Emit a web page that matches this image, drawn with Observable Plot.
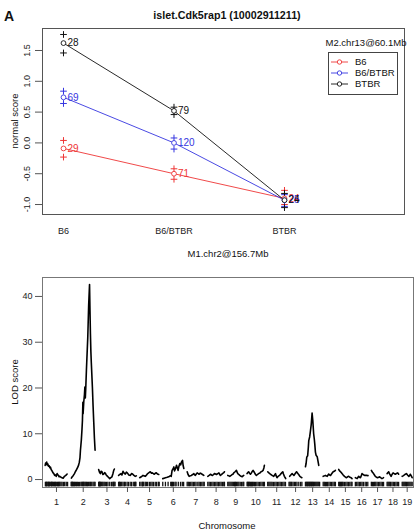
<!DOCTYPE html>
<html><head><meta charset="utf-8">
<script src="https://cdn.jsdelivr.net/npm/d3@7"></script>
<script src="https://cdn.jsdelivr.net/npm/@observablehq/plot@0.6"></script>
<style>
body{margin:0;background:#fff;font-family:"Liberation Sans",Arial,sans-serif;}
#wrap{position:relative;width:415px;height:530px;overflow:hidden;background:#fff;}
.abs{position:absolute;white-space:nowrap;line-height:1;color:#111;}
.c{transform:translate(-50%,-50%);}
.rot{transform:translate(-50%,-50%) rotate(-90deg);}
.panel{position:absolute;left:0;}
</style></head><body><div id="wrap"></div>
<script>
// ---------- Panel A: effect plot ----------
const genotypesM1 = ["B6", "B6/BTBR", "BTBR"];
const groupsM2 = ["B6", "B6/BTBR", "BTBR"];
const groupColors = ["#ee3535", "#3535e0", "#111111"];
const meanB6   = [-0.09, -0.50, -0.90];
const meanHet  = [0.74, 0.00, -0.93];
const meanBTBR = [1.62, 0.52, -0.93];
const upperB6   = [0.04, -0.42, -0.77];
const upperHet  = [0.84, 0.08, -0.84];
const upperBTBR = [1.76, 0.58, -0.82];
const lowerB6   = [-0.23, -0.59, -1.00];
const lowerHet  = [0.64, -0.10, -1.03];
const lowerBTBR = [1.46, 0.46, -1.05];
const countB6   = [29, 71, 24];
const countHet  = [69, 120, 25];
const countBTBR = [28, 79, 24];
const yTicksTop = [-1, -0.5, 0, 0.5, 1, 1.5];

// ---------- Panel B: genome scan ----------
const chrNames = ["1","2","3","4","5","6","7","8","9","10","11","12","13","14","15","16","17","18","19"];
const chrLengths = [102,109,75,80,89,95,78,75,72,78,81,59,65,55,60,57,56,53,45];
const yTicksBottom = [0, 10, 20, 30, 40];
const lodCurves = [
 [[0,3.1],[2,3.6],[4.5,3.3],[7,3.8],[9,3.2],[12,3.4],[15,2.9],[18,3.0],[21,2.6],[24,2.7],[27,2.2],[31,1.9],[35,1.5],[39,1.3],[43,0.9],[46,1.0],[50,0.7],[54,1.3],[57,1.0],[60,0.9],[63,0.6],[66,0.7],[71,0.5],[76,0.4],[81,0.3],[87,0.7],[93,0.9],[99,1.2]],
 [[1,0.3],[5,0.6],[10,0.9],[15,1.3],[19,1.7],[25,2.2],[30,2.7],[34,3.2],[37,3.8],[40,4.8],[42,6.4],[44,7.5],[46,8.6],[49,11.0],[51,12.9],[53,16.9],[54,14.4],[57,17.0],[60,18.5],[62,20.2],[64,17.8],[66,20.0],[69,24.0],[75,31.0],[79,38.0],[83,42.6],[85,37.0],[87,31.8],[89,28.0],[91,25.5],[96,20.0],[99,16.0],[102,12.5],[105,9.0],[108,6.4]],
 [[0,2.2],[4,1.6],[8,1.3],[11,1.8],[15,1.7],[19,1.1],[23,1.2],[27,1.5],[30,1.4],[34,1.0],[38,0.8],[44,0.5],[50,0.2],[55,0.4],[60,0.6],[64,1.2],[68,2.0],[71,2.3]],
 [[0,0.9],[5,1.1],[11,1.3],[15,1.0],[20,1.8],[25,1.4],[30,1.2],[35,1.6],[40,1.4],[46,1.0],[53,0.9],[58,1.3],[63,1.2],[69,0.9],[75,0.7],[80,0.8]],
 [[0,0.4],[7,0.6],[15,0.9],[20,0.8],[26,0.7],[31,1.0],[36,1.3],[42,1.5],[48,1.7],[53,1.4],[57,1.45],[62,1.3],[66,1.15],[71,1.4],[75,1.45],[80,1.2],[86,1.1]],
 [[0,0.2],[6,0.3],[12,0.4],[20,0.5],[27,0.6],[33,0.8],[38,0.7],[42,2.0],[46,2.3],[50,2.75],[53,1.9],[56,2.2],[59,2.6],[62,3.1],[66,2.5],[69,2.0],[73,2.9],[77,3.5],[81,3.2],[84,3.8],[89,4.2],[92,3.0],[95,2.4]],
 [[0,1.7],[4,1.1],[9,0.7],[14,0.8],[19,0.9],[25,1.1],[30,1.3],[34,1.0],[37,0.9],[41,1.2],[45,1.45],[50,1.3],[54,1.15],[59,1.4],[63,1.3],[69,1.1],[75,0.9]],
 [[0,0.7],[6,0.9],[12,1.15],[17,1.0],[21,0.9],[26,1.1],[30,1.3],[35,1.2],[39,1.1],[45,1.3],[50,1.45],[54,1.1],[57,0.9],[62,1.1],[66,1.3],[72,1.5],[75,1.7]],
 [[0,0.9],[5,0.8],[9,0.7],[15,0.9],[20,1.1],[24,1.2],[27,1.45],[33,1.7],[39,2.0],[42,1.6],[45,1.3],[50,1.1],[54,0.9],[60,0.7],[65,0.6],[69,0.8],[72,0.9]],
 [[0,1.3],[3,1.5],[7,1.7],[11,1.4],[15,1.15],[20,1.5],[24,1.8],[27,2.0],[31,1.7],[34,1.45],[38,1.1],[42,0.9],[47,1.1],[52,1.3],[57,1.4],[63,1.7],[68,1.8],[72,2.0],[76,2.6],[78,3.1]],
 [[0,1.7],[4,1.5],[9,1.3],[14,1.1],[20,0.9],[24,0.8],[27,0.7],[31,1.0],[35,1.3],[38,0.8],[42,0.4],[47,0.7],[53,0.9],[57,1.1],[60,1.3],[64,1.5],[68,1.7],[71,1.2],[75,0.7],[79,0.4],[81,0.2]],
 [[3,0.7],[8,1.0],[14,1.3],[18,1.1],[22,0.9],[28,1.3],[34,1.7],[37,1.5],[40,1.3],[45,1.0],[49,0.7],[54,0.5],[58,0.4]],
 [[0,2.8],[3,3.5],[6,4.9],[10,5.2],[13,7.0],[15,8.5],[19,9.3],[22,10.4],[26,12.0],[30,14.5],[33,13.0],[37,10.0],[40,8.8],[42,7.8],[45,6.0],[48,5.3],[53,5.0],[56,4.2],[60,3.1]],
 [[0,0.7],[5,0.8],[10,0.9],[14,0.8],[18,0.7],[22,1.0],[25,1.2],[29,1.0],[33,0.9],[39,1.3],[45,1.7],[50,1.8],[55,2.0]],
 [[0,2.2],[4,1.9],[8,1.7],[12,1.5],[15,1.3],[20,1.0],[26,0.7],[31,0.5],[35,0.4],[40,0.6],[45,0.7],[50,0.5],[56,0.4],[60,0.2]],
 [[0,0.4],[4,0.3],[8,0.2],[12,0.5],[15,0.7],[19,0.5],[23,0.4],[27,0.9],[30,1.3],[35,1.1],[41,0.9],[47,0.9],[53,0.9],[57,0.85]],
 [[0,2.0],[5,1.6],[10,1.3],[14,1.0],[18,0.7],[23,0.5],[28,0.4],[33,0.5],[37,0.6],[42,0.4],[48,0.2],[52,0.3],[55,0.4]],
 [[0,1.3],[4,1.5],[7,1.7],[12,1.2],[18,0.7],[22,1.1],[27,1.45],[32,1.3],[37,1.15],[42,1.3],[48,1.45],[52,1.15]],
 [[0,0.7],[4,0.8],[7,0.9],[12,1.1],[19,1.3],[24,1.0],[30,0.7],[34,0.9],[37,1.15],[41,0.8],[45,0.4]]
];
const markerPos = [
 [1,4,6,8,12,15,17,19,23,27,29,31,34,38,42,45,47,52,56,60,63,66,71,76,82,88,95,101],
 [0,3,5,7,11,15,19,24,28,33,38,44,48,52,55,58,62,66,70,74,79,84,88,93,99,104,108],
 [0,2,4,6,8,12,16,20,25,30,36,42,50,58,64,67,70,74],
 [0,3,5,9,14,20,26,30,38,44,52,58,66,72,75,78],
 [0,6,12,14,18,25,30,36,44,50,56,62,70,76,84,88],
 [0,12,24,36,40,44,48,55,60,70,80,88,94],
 [0,5,10,16,22,28,34,40,48,54,60,66,72,77],
 [0,6,12,18,24,30,36,42,48,54,60,66,72,75],
 [0,5,10,15,20,25,30,33,35,40,45,50,56,62,68,72],
 [0,3,6,9,12,16,20,24,28,33,38,44,50,56,62,68,74,78],
 [0,5,10,15,20,26,32,38,44,50,56,62,68,74,80],
 [0,4,8,12,18,24,30,36,44,52,58],
 [0,3,6,9,12,15,18,21,24,27,30,33,36,40,44,48,52,56,60,64],
 [0,5,10,15,20,26,32,38,44,50,55],
 [0,4,8,12,16,20,26,32,38,44,50,56,60],
 [0,6,12,18,24,30,36,44,50,56],
 [0,5,10,15,20,26,32,38,44,50,55],
 [0,4,8,12,16,22,28,34,40,46,52],
 [0,4,8,12,16,20,25,30,35,40,45]
];

const FONT = "Liberation Sans, Arial, Helvetica, sans-serif";
const wrap = document.getElementById("wrap");
function addText(txt, x, y, cls, style) {
  const d = document.createElement("div");
  d.className = "abs " + cls;
  d.textContent = txt;
  d.style.left = x + "px"; d.style.top = y + "px";
  Object.assign(d.style, style || {});
  wrap.appendChild(d);
  return d;
}

// ---- build panel A data
const means = [meanB6, meanHet, meanBTBR];
const uppers = [upperB6, upperHet, upperBTBR];
const lowers = [lowerB6, lowerHet, lowerBTBR];
const counts = [countB6, countHet, countBTBR];
const pts = [];
groupsM2.forEach((g, gi) => genotypesM1.forEach((gt, xi) => pts.push({
  group: g, xi: xi + 1, mean: means[gi][xi], up: uppers[gi][xi], lo: lowers[gi][xi], n: counts[gi][xi]
})));
const seRows = pts.flatMap(d => [{group: d.group, xi: d.xi, v: d.up}, {group: d.group, xi: d.xi, v: d.lo}]);
const fmt1 = d => d.toFixed(1);

const topPlot = Plot.plot({
  width: 415, height: 260,
  marginTop: 28, marginBottom: 46, marginLeft: 42, marginRight: 11,
  style: {fontFamily: FONT, fontSize: "9px", background: "transparent", color: "#111"},
  x: {domain: [0.81, 4.086], axis: null},
  y: {domain: [-1.162, 1.857], axis: null},
  color: {domain: groupsM2, range: groupColors},
  marks: [
    Plot.frame({stroke: "#555"}),
    Plot.axisY({ticks: yTicksTop, tickSize: 7, tickFormat: () => "", label: null, stroke: "#555"}),
    Plot.text(yTicksTop, {y: d => d, text: fmt1, frameAnchor: "left", dx: -15, rotate: -90,
      textAnchor: "middle", lineAnchor: "middle", fontSize: 9, fill: "#222"}),
    Plot.text(genotypesM1, {x: (d, i) => i + 1, text: d => d, frameAnchor: "bottom", dy: 17,
      lineAnchor: "middle", fontSize: 9, fill: "#222"}),
    Plot.line(pts, {x: "xi", y: "mean", z: "group", stroke: "group", strokeWidth: 0.9}),
    Plot.dot(seRows, {x: "xi", y: "v", stroke: "group", symbol: "plus", r: 2.3, strokeWidth: 1}),
    Plot.dot(pts, {x: "xi", y: "mean", stroke: "group", fill: "white", r: 2.4, strokeWidth: 0.9}),
    Plot.text(pts, {x: "xi", y: "mean", text: "n", fill: "group", dx: 4, textAnchor: "start", fontSize: 10})
  ]
});
const topDiv = document.createElement("div");
topDiv.className = "panel"; topDiv.style.top = "0px";
topDiv.appendChild(topPlot); wrap.appendChild(topDiv);

// ---- build panel B data
const chrGap = 15;
const offsets = [];
let acc = 0;
chrLengths.forEach(L => { offsets.push(acc); acc += L + chrGap; });
const genomeEnd = acc - chrGap;
const lodRows = lodCurves.flatMap((pairs, i) => pairs.map(([p, l]) => ({chr: chrNames[i], gpos: offsets[i] + p, lod: l})));
const rugRows = markerPos.flatMap((arr, i) => arr.map(p => ({gpos: offsets[i] + p})));
const centers = chrLengths.map((L, i) => offsets[i] + L / 2);
const centerLabel = new Map(centers.map((c, i) => [c, chrNames[i]]));

const botPlot = Plot.plot({
  width: 415, height: 270,
  marginTop: 17, marginBottom: 43, marginLeft: 42, marginRight: 2,
  style: {fontFamily: FONT, fontSize: "9px", background: "transparent", color: "#111"},
  x: {domain: [-12, genomeEnd + 6], axis: null},
  y: {domain: [-1.74, 44.14], axis: null},
  marks: [
    Plot.frame({stroke: "#777"}),
    Plot.axisY({ticks: yTicksBottom, tickSize: 7, tickPadding: 3, tickFormat: d => String(d), label: null, stroke: "#555", fill: "#222", fontSize: 9}),
    Plot.axisX({ticks: centers, tickSize: 5, tickPadding: 6, tickFormat: d => centerLabel.get(d), label: null, stroke: "#555", fill: "#222", fontSize: 9}),
    Plot.ruleX(rugRows, {x: "gpos", y1: -0.6, y2: -1.6, stroke: "#111", strokeWidth: 1.3}),
    Plot.line(lodRows, {x: "gpos", y: "lod", z: "chr", stroke: "#000", strokeWidth: 1.6})
  ]
});
const botDiv = document.createElement("div");
botDiv.className = "panel"; botDiv.style.top = "260px";
botDiv.appendChild(botPlot); wrap.appendChild(botDiv);

// ---- texts
addText("A", 4, 9, "", {fontWeight: "bold", fontSize: "14px"});
addText("islet.Cdk5rap1 (10002911211)", 227, 15, "c", {fontWeight: "bold", fontSize: "10.7px"});
addText("normal score", 15, 121, "rot", {fontSize: "9.5px"});
addText("M1.chr2@156.7Mb", 228, 254, "c", {fontSize: "9.5px"});
addText("LOD score", 15, 382, "rot", {fontSize: "9.5px"});
addText("Chromosome", 227, 526, "c", {fontSize: "9.5px"});

// ---- legend
addText("M2.chr13@60.1Mb", 366, 43, "c", {fontSize: "9.5px"});
const box = document.createElement("div");
box.className = "abs";
Object.assign(box.style, {left: "328px", top: "52px", width: "70px", height: "43px", border: "1px solid #444", boxSizing: "border-box", background: "#fff"});
wrap.appendChild(box);
groupsM2.forEach((g, i) => {
  const y = 62 + i * 11;
  const ns = "http://www.w3.org/2000/svg";
  const s = document.createElementNS(ns, "svg");
  s.setAttribute("width", 20); s.setAttribute("height", 8);
  s.style.position = "absolute"; s.style.left = "330px"; s.style.top = (y - 4) + "px";
  const ln = document.createElementNS(ns, "line");
  ln.setAttribute("x1", 1); ln.setAttribute("x2", 18); ln.setAttribute("y1", 4); ln.setAttribute("y2", 4);
  ln.setAttribute("stroke", groupColors[i]); ln.setAttribute("stroke-width", 0.9);
  const ci = document.createElementNS(ns, "circle");
  ci.setAttribute("cx", 9.5); ci.setAttribute("cy", 4); ci.setAttribute("r", 2.2);
  ci.setAttribute("stroke", groupColors[i]); ci.setAttribute("fill", "white"); ci.setAttribute("stroke-width", 0.9);
  s.appendChild(ln); s.appendChild(ci);
  wrap.appendChild(s);
  addText(g, 355, y, "", {fontSize: "9.5px", transform: "translateY(-50%)"});
});
</script></body></html>
